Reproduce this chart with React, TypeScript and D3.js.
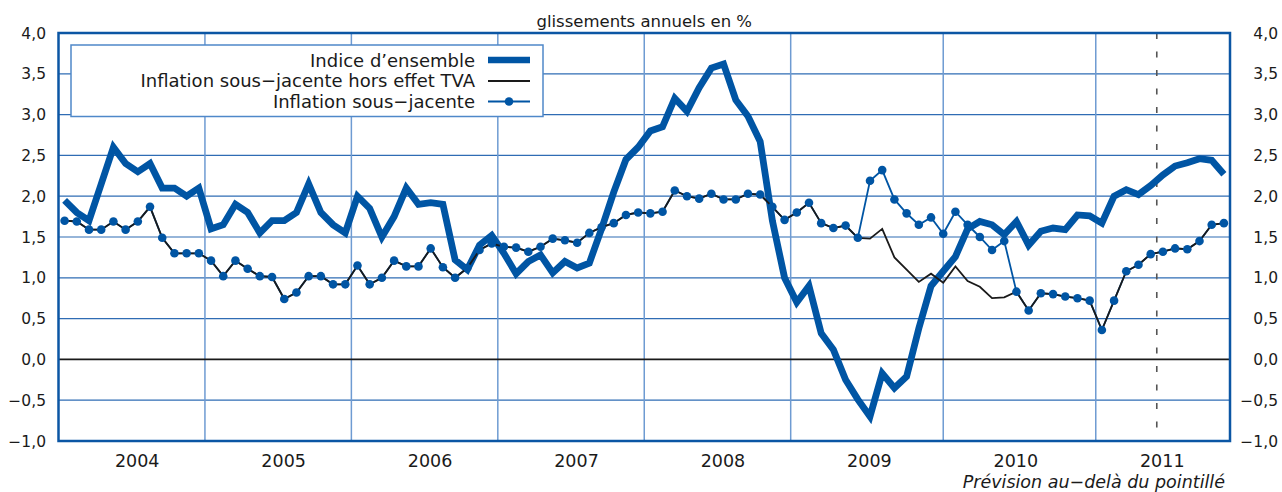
import * as d3 from "d3";

const W = 1282;
const H = 492;
const FONT = "'DejaVu Sans', sans-serif";
const BLUE = "#0055a4";

// glissements annuels en %, janvier 2004 -> décembre 2011
const indiceEnsemble = [
  1.95, 1.8, 1.7, 2.15, 2.6, 2.4, 2.3, 2.4, 2.1, 2.1, 2.0, 2.1,
  1.6, 1.65, 1.9, 1.8, 1.55, 1.7, 1.7, 1.8, 2.15, 1.8, 1.65, 1.55,
  2.0, 1.85, 1.5, 1.75, 2.1, 1.9, 1.92, 1.9, 1.22, 1.1, 1.4, 1.52,
  1.3, 1.05, 1.2, 1.28, 1.06, 1.2, 1.12, 1.18, 1.6, 2.05, 2.45, 2.6,
  2.8, 2.85, 3.2, 3.04, 3.33, 3.57, 3.62, 3.18, 2.98, 2.67, 1.7, 1.0,
  0.7, 0.9, 0.32, 0.12, -0.25, -0.49, -0.7, -0.17, -0.35, -0.21, 0.38, 0.9,
  1.08, 1.26, 1.6, 1.69, 1.65, 1.53, 1.69, 1.4, 1.57, 1.61, 1.59, 1.77,
  1.76, 1.67, 2.0, 2.08, 2.02, 2.13, 2.26, 2.37, 2.41, 2.46, 2.44, 2.27,
];

const sousJacente = [
  1.7, 1.69, 1.59, 1.59, 1.69, 1.59, 1.69, 1.87, 1.49, 1.3, 1.3, 1.3,
  1.21, 1.02, 1.21, 1.11, 1.02, 1.01, 0.74, 0.82, 1.02, 1.02, 0.92, 0.92,
  1.15, 0.92, 1.0, 1.21, 1.14, 1.14, 1.36, 1.13, 1.0, 1.12, 1.34, 1.42,
  1.38, 1.37, 1.32, 1.38, 1.48, 1.46, 1.43, 1.55, 1.62, 1.67, 1.77, 1.8,
  1.79, 1.81, 2.07, 2.0, 1.97, 2.03, 1.96, 1.96, 2.03, 2.02, 1.87, 1.71,
  1.8, 1.92, 1.67, 1.61, 1.64, 1.49, 2.19, 2.32, 1.96, 1.79, 1.65, 1.74,
  1.54, 1.81, 1.65, 1.5, 1.34, 1.45, 0.83, 0.6, 0.81, 0.8, 0.77, 0.75,
  0.72, 0.36, 0.72, 1.08, 1.16, 1.29, 1.32, 1.36, 1.35, 1.45, 1.65, 1.67,
];

const horsTVA = [
  1.7, 1.69, 1.59, 1.59, 1.69, 1.59, 1.69, 1.87, 1.49, 1.3, 1.3, 1.3,
  1.21, 1.02, 1.21, 1.11, 1.02, 1.01, 0.74, 0.82, 1.02, 1.02, 0.92, 0.92,
  1.15, 0.92, 1.0, 1.21, 1.14, 1.14, 1.36, 1.13, 1.0, 1.12, 1.34, 1.42,
  1.38, 1.37, 1.32, 1.38, 1.48, 1.46, 1.43, 1.55, 1.62, 1.67, 1.77, 1.8,
  1.79, 1.81, 2.07, 2.0, 1.97, 2.03, 1.96, 1.96, 2.03, 2.02, 1.87, 1.71,
  1.8, 1.92, 1.67, 1.61, 1.64, 1.49, 1.48, 1.6, 1.25, 1.1, 0.95, 1.05,
  0.94, 1.14, 0.96, 0.89, 0.75, 0.76, 0.83, 0.6, 0.81, 0.8, 0.77, 0.75,
  0.72, 0.36, 0.72, 1.08, 1.16, 1.29, 1.32, 1.36, 1.35, 1.45, 1.65, 1.67,
];

const years = ["2004", "2005", "2006", "2007", "2008", "2009", "2010", "2011"];
const yTicks = [-1, -0.5, 0, 0.5, 1, 1.5, 2, 2.5, 3, 3.5, 4];
// séparations verticales (en mois depuis janvier 2004), telles que tracées
const gridMonths = [12, 24, 36, 48, 60, 72.5, 85];
const forecastStart = 90; // juillet 2011

const legendItems = [
  "Indice d\u2019ensemble",
  "Inflation sous\u2212jacente hors effet TVA",
  "Inflation sous\u2212jacente",
];

const fmt = (v: number) => (v < 0 ? "\u2212" : "") + Math.abs(v).toFixed(1).replace(".", ",");

const x = d3.scaleLinear().domain([0, 96]).range([58.5, 1230]);
const y = d3.scaleLinear().domain([-1, 4]).range([441, 33]);

const line = d3
  .line<number>()
  .x((_, i) => x(i + 0.5))
  .y((d) => y(d));

export default function App() {
  const left = x(0);
  const right = x(96);
  const top = y(4);
  const bottom = y(-1);

  return (
    <svg
      width={W}
      height={H}
      style={{ position: "absolute", left: 0, top: 0, background: "#fff" }}
      fontFamily={FONT}
    >
      {/* grille horizontale */}
      {yTicks
        .filter((t) => t !== 0 && t !== 4 && t !== -1)
        .map((t) => (
          <line key={t} x1={left} x2={right} y1={y(t)} y2={y(t)} stroke="#2f6cb4" strokeWidth={1.2} />
        ))}
      {/* grille verticale */}
      {gridMonths.map((m) => (
        <line key={m} x1={x(m)} x2={x(m)} y1={top} y2={bottom} stroke="#6e9bd2" strokeWidth={1.5} />
      ))}
      <line x1={left} x2={right} y1={y(0)} y2={y(0)} stroke="#1a1a1a" strokeWidth={1.8} />
      <line
        x1={x(forecastStart)}
        x2={x(forecastStart)}
        y1={top}
        y2={bottom}
        stroke="#555"
        strokeWidth={1.6}
        strokeDasharray="6,12.5"
      />

      {/* légende */}
      <rect x={71} y={45} width={472} height={71.5} fill="#fff" stroke="#4f88c9" strokeWidth={1.5} />
      {legendItems.map((t, i) => (
        <text key={t} x={475} y={66.5 + i * 20.6} textAnchor="end" fontSize={18} fill="#1a1a1a">
          {t}
        </text>
      ))}
      <line x1={488} x2={530} y1={60} y2={60} stroke={BLUE} strokeWidth={6.5} />
      <line x1={488} x2={530} y1={81} y2={81} stroke="#1a1a1a" strokeWidth={2} />
      <line x1={488} x2={530} y1={101.5} y2={101.5} stroke={BLUE} strokeWidth={1.8} />
      <circle cx={509} cy={101.5} r={4.3} fill={BLUE} />

      {/* séries */}
      <path d={line(indiceEnsemble) ?? ""} fill="none" stroke={BLUE} strokeWidth={6.8} strokeLinejoin="miter" strokeMiterlimit={3} />
      <path d={line(sousJacente) ?? ""} fill="none" stroke={BLUE} strokeWidth={1.8} />
      <path d={line(horsTVA) ?? ""} fill="none" stroke="#1a1a1a" strokeWidth={1.8} />
      {sousJacente.map((d, i) => (
        <circle key={i} cx={x(i + 0.5)} cy={y(d)} r={4.3} fill={BLUE} />
      ))}

      {/* cadre */}
      <rect x={left} y={top} width={right - left} height={bottom - top} fill="none" stroke="#0b56a4" strokeWidth={2.5} />

      {/* axes */}
      {yTicks.map((t) => (
        <g key={t}>
          <text x={46} y={y(t)} dy="0.36em" textAnchor="end" fontSize={15.5} fill="#1a1a1a">
            {fmt(t)}
          </text>
          <text x={1278} y={y(t)} dy="0.36em" textAnchor="end" fontSize={15.5} fill="#1a1a1a">
            {fmt(t)}
          </text>
        </g>
      ))}
      {years.map((yr, i) => (
        <text key={yr} x={x(i * 12 + 6.45)} y={466.5} textAnchor="middle" fontSize={17.5} fill="#1a1a1a">
          {yr}
        </text>
      ))}
      <text x={(left + right) / 2} y={27} textAnchor="middle" fontSize={16.5} fill="#1a1a1a">
        glissements annuels en %
      </text>
      <text x={1225} y={487.5} textAnchor="end" fontSize={17.5} fontStyle="italic" fill="#1a1a1a">
        Prévision au{"\u2212"}delà du pointillé
      </text>
    </svg>
  );
}
